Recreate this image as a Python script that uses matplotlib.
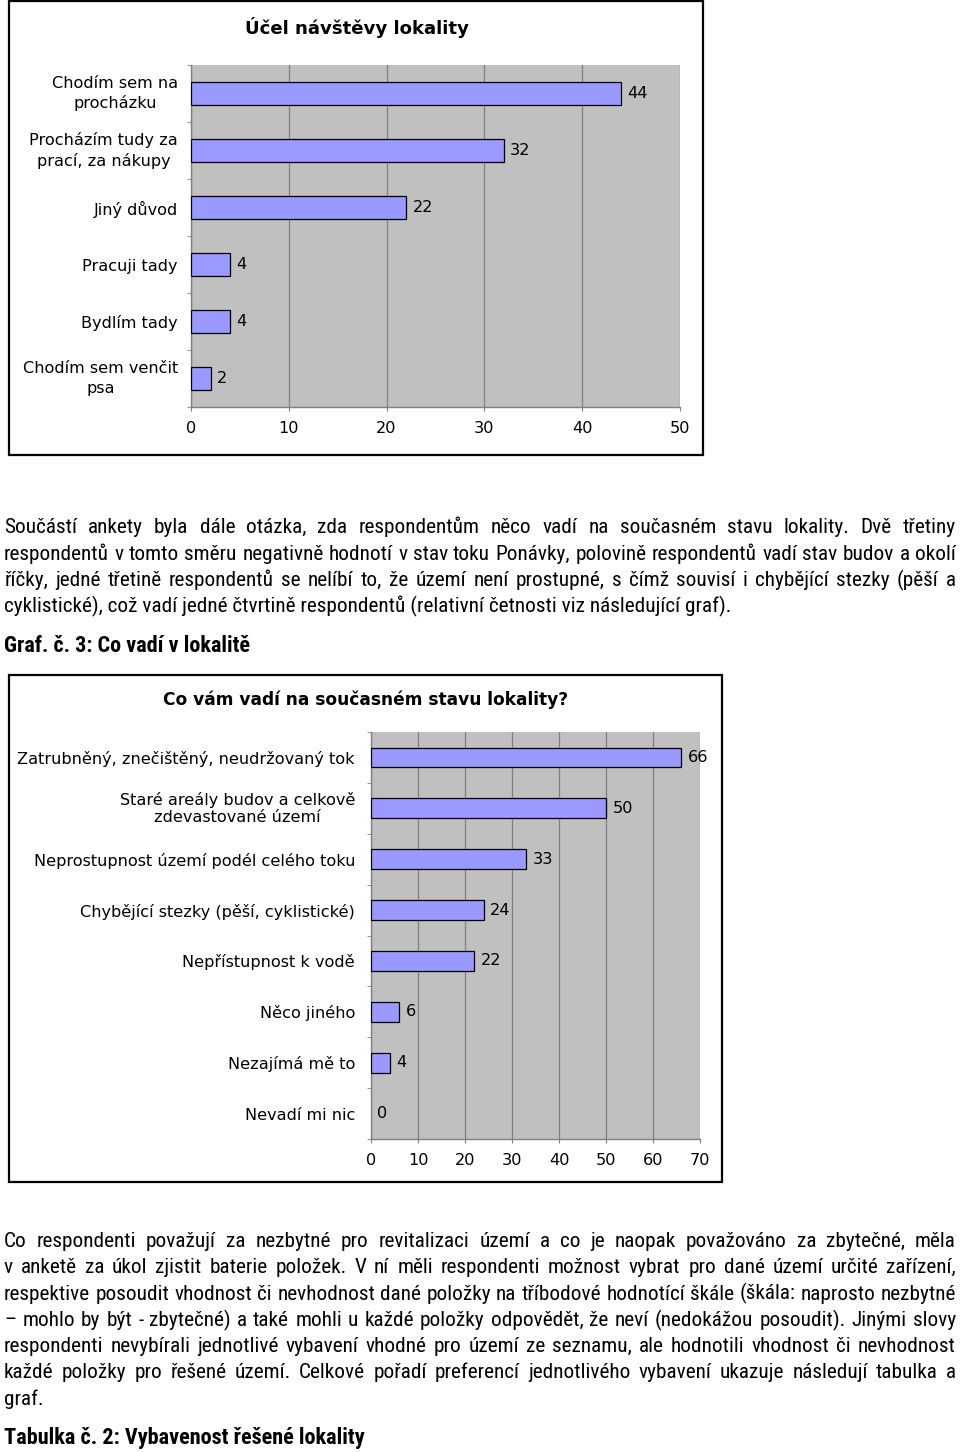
import matplotlib
matplotlib.use('Agg')
import matplotlib.pyplot as plt
from matplotlib import font_manager
from matplotlib.patches import Rectangle
import numpy as np

# ---------------- data ----------------
c1_title = "Účel návštěvy lokality"
c1_labels = ["Chodím sem na\nprocházku", "Procházím tudy za\nprací, za nákupy", "Jiný důvod",
             "Pracuji tady", "Bydlím tady", "Chodím sem venčit\npsa"]
c1_values = [44, 32, 22, 4, 4, 2]
c1_ticks = [0, 10, 20, 30, 40, 50]

c2_title = "Co vám vadí na současném stavu lokality?"
c2_labels = ["Zatrubněný, znečištěný, neudržovaný tok", "Staré areály budov a celkově\nzdevastované území",
             "Neprostupnost území podél celého toku", "Chybějící stezky (pěší, cyklistické)",
             "Nepřístupnost k vodě", "Něco jiného", "Nezajímá mě to", "Nevadí mi nic"]
c2_values = [66, 50, 33, 24, 22, 6, 4, 0]
c2_ticks = [0, 10, 20, 30, 40, 50, 60, 70]

para1 = ["Součástí ankety byla dále otázka, zda respondentům něco vadí na současném stavu lokality. Dvě třetiny",
         "respondentů v tomto směru negativně hodnotí v stav toku Ponávky, polovině respondentů vadí stav budov a okolí",
         "říčky, jedné třetině respondentů se nelíbí to, že území není prostupné, s čímž souvisí i chybějící stezky (pěší a",
         "cyklistické), což vadí jedné čtvrtině respondentů (relativní četnosti viz následující graf)."]
head1 = "Graf. č. 3: Co vadí v lokalitě"
para2 = ["Co respondenti považují za nezbytné pro revitalizaci území a co je naopak považováno za zbytečné, měla",
         "v anketě za úkol zjistit baterie položek. V ní měli respondenti možnost vybrat pro dané území určité zařízení,",
         "respektive posoudit vhodnost či nevhodnost dané položky na tříbodové hodnotící škále (škála: naprosto nezbytné",
         "– mohlo by být - zbytečné) a také mohli u každé položky odpovědět, že neví (nedokážou posoudit). Jinými slovy",
         "respondenti nevybírali jednotlivé vybavení vhodné pro území ze seznamu, ale hodnotili vhodnost či nevhodnost",
         "každé položky pro řešené území. Celkové pořadí preferencí jednotlivého vybavení ukazuje následují tabulka a",
         "graf."]
head2 = "Tabulka č. 2: Vybavenost řešené lokality"

# ---------------- figure ----------------
W, H = 960, 1452
fig = plt.figure(figsize=(W / 100, H / 100), dpi=100)
fig.patch.set_facecolor('white')
renderer = fig.canvas.get_renderer()


def fx(px):
    return px / W


def fy(py):
    return 1 - py / H


def text_width(s, **kw):
    t = fig.text(0, 0, s, **kw)
    w = t.get_window_extent(renderer).width
    t.remove()
    return w


def fit_size(s, target, **kw):
    return 10 * target / text_width(s, fontsize=10, **kw)


# choose a narrow sans font (Arial Narrow look) for the body text
ttf = font_manager.fontManager.ttflist
names = {f.name for f in ttf}
body_kw = None
for cand in ['Liberation Sans Narrow', 'Roboto Condensed', 'Archivo Narrow', 'PT Sans Narrow']:
    if cand in names:
        body_kw = dict(family=[cand, 'DejaVu Sans'])
        break
if body_kw is None:
    body_kw = dict(family='DejaVu Sans', fontstretch='condensed')
    head_kw = dict(body_kw, fontweight='bold')
else:
    has_bold = any(f.name == body_kw['family'][0] and f.weight in (600, 700, 'bold', 'semibold') for f in ttf)
    head_kw = dict(body_kw, fontweight='bold') if has_bold else dict(family='DejaVu Sans', fontstretch='condensed',
                                                                      fontweight='bold')

chart_font = 'DejaVu Sans'
BAR_COLOR = '#9999FF'
PLOT_BG = '#C0C0C0'
GRID = '#808080'


def draw_chart(border, axbox, title, title_xy, title_w, labels, values, ticks, ref_label, ref_w,
               label_pad_px, bar_h, linesp):
    x0, y0, x1, y1 = border
    fig.patches.append(Rectangle((fx(x0), fy(y1)), fx(x1) - fx(x0), fy(y0) - fy(y1),
                                 transform=fig.transFigure, fill=False, ec='black', lw=1.6))
    tsize = fit_size(title, title_w, family=chart_font, fontweight='bold')
    fig.text(fx(title_xy[0]), fy(title_xy[1]), title, ha='center', va='center',
             family=chart_font, fontweight='bold', fontsize=tsize)
    lsize = fit_size(ref_label, ref_w, family=chart_font)

    l, t, r, b = axbox
    ax = fig.add_axes([fx(l), fy(b), fx(r) - fx(l), (b - t) / H])
    ax.set_facecolor(PLOT_BG)
    n = len(values)
    y = np.arange(n)
    ecs = ['black' if v > 0 else 'none' for v in values]
    ax.barh(y, values, height=bar_h, color=BAR_COLOR, edgecolor=ecs, linewidth=0.9, zorder=3)
    ax.set_ylim(n - 0.5, -0.5)
    ax.set_xlim(ticks[0], ticks[-1])
    ax.set_xticks(ticks)
    ax.set_xticklabels([str(tk) for tk in ticks], family=chart_font, fontsize=lsize)
    ax.set_yticks(y)
    ax.set_yticklabels(labels, family=chart_font, fontsize=lsize, multialignment='center',
                       linespacing=linesp)
    for lab in ax.get_yticklabels():
        if '\n' in lab.get_text():
            lab.set_verticalalignment('center')
    ax.set_yticks(np.arange(n + 1) - 0.5, minor=True)
    ax.tick_params(axis='y', which='major', length=0, pad=label_pad_px * 0.72)
    ax.tick_params(axis='y', which='minor', length=3, color=GRID, direction='out')
    ax.tick_params(axis='x', which='major', length=3, color=GRID, direction='out', pad=7)
    ax.grid(axis='x', color=GRID, linewidth=0.9, zorder=1)
    ax.set_axisbelow(True)
    for s in ['top', 'right']:
        ax.spines[s].set_visible(False)
    for s in ['left', 'bottom']:
        ax.spines[s].set_color(GRID)
        ax.spines[s].set_linewidth(1.0)
    for i, v in enumerate(values):
        ax.annotate(str(v), (v, i), xytext=(4.5, 0), textcoords='offset points',
                    va='center', ha='left', family=chart_font, fontsize=lsize)
    return ax


# Chart 1
draw_chart(border=(9, 1, 703, 455), axbox=(191, 65, 680, 407), title=c1_title,
           title_xy=(357, 27), title_w=224, labels=c1_labels, values=c1_values, ticks=c1_ticks,
           ref_label="Procházím tudy za", ref_w=149, label_pad_px=13, bar_h=0.42, linesp=1.35)

# Chart 2
draw_chart(border=(9, 675, 722, 1182), axbox=(371, 732, 700, 1139), title=c2_title,
           title_xy=(366, 700), title_w=406, labels=c2_labels, values=c2_values, ticks=c2_ticks,
           ref_label="Neprostupnost území podél celého toku", ref_w=320, label_pad_px=16, bar_h=0.39,
           linesp=1.2)

# ---------------- body text ----------------
body_size = fit_size(para1[-1], 723, **body_kw)
LEFT, RIGHT = 4, 956


def justified(lines, baselines):
    for k, (line, yb) in enumerate(zip(lines, baselines)):
        last = (k == len(lines) - 1)
        words = line.split(' ')
        if last or len(words) == 1:
            fig.text(fx(LEFT), fy(yb), line, ha='left', va='baseline', fontsize=body_size, **body_kw)
            continue
        widths = [text_width(w, fontsize=body_size, **body_kw) for w in words]
        gap = (RIGHT - LEFT - sum(widths)) / (len(words) - 1)
        x = LEFT
        for w, wd in zip(words, widths):
            fig.text(fx(x), fy(yb), w, ha='left', va='baseline', fontsize=body_size, **body_kw)
            x += wd + gap


justified(para1, [533, 559.5, 586, 612.5])
h1_size = fit_size(head1, 247, **head_kw)
fig.text(fx(LEFT), fy(652), head1, ha='left', va='baseline', fontsize=h1_size, **head_kw)
justified(para2, [1247, 1273, 1299.5, 1326, 1352, 1378.5, 1405])
h2_size = fit_size(head2, 362, **head_kw)
fig.text(fx(LEFT), fy(1444), head2, ha='left', va='baseline', fontsize=h2_size, **head_kw)

fig.savefig('out.png', dpi=100, facecolor='white')
